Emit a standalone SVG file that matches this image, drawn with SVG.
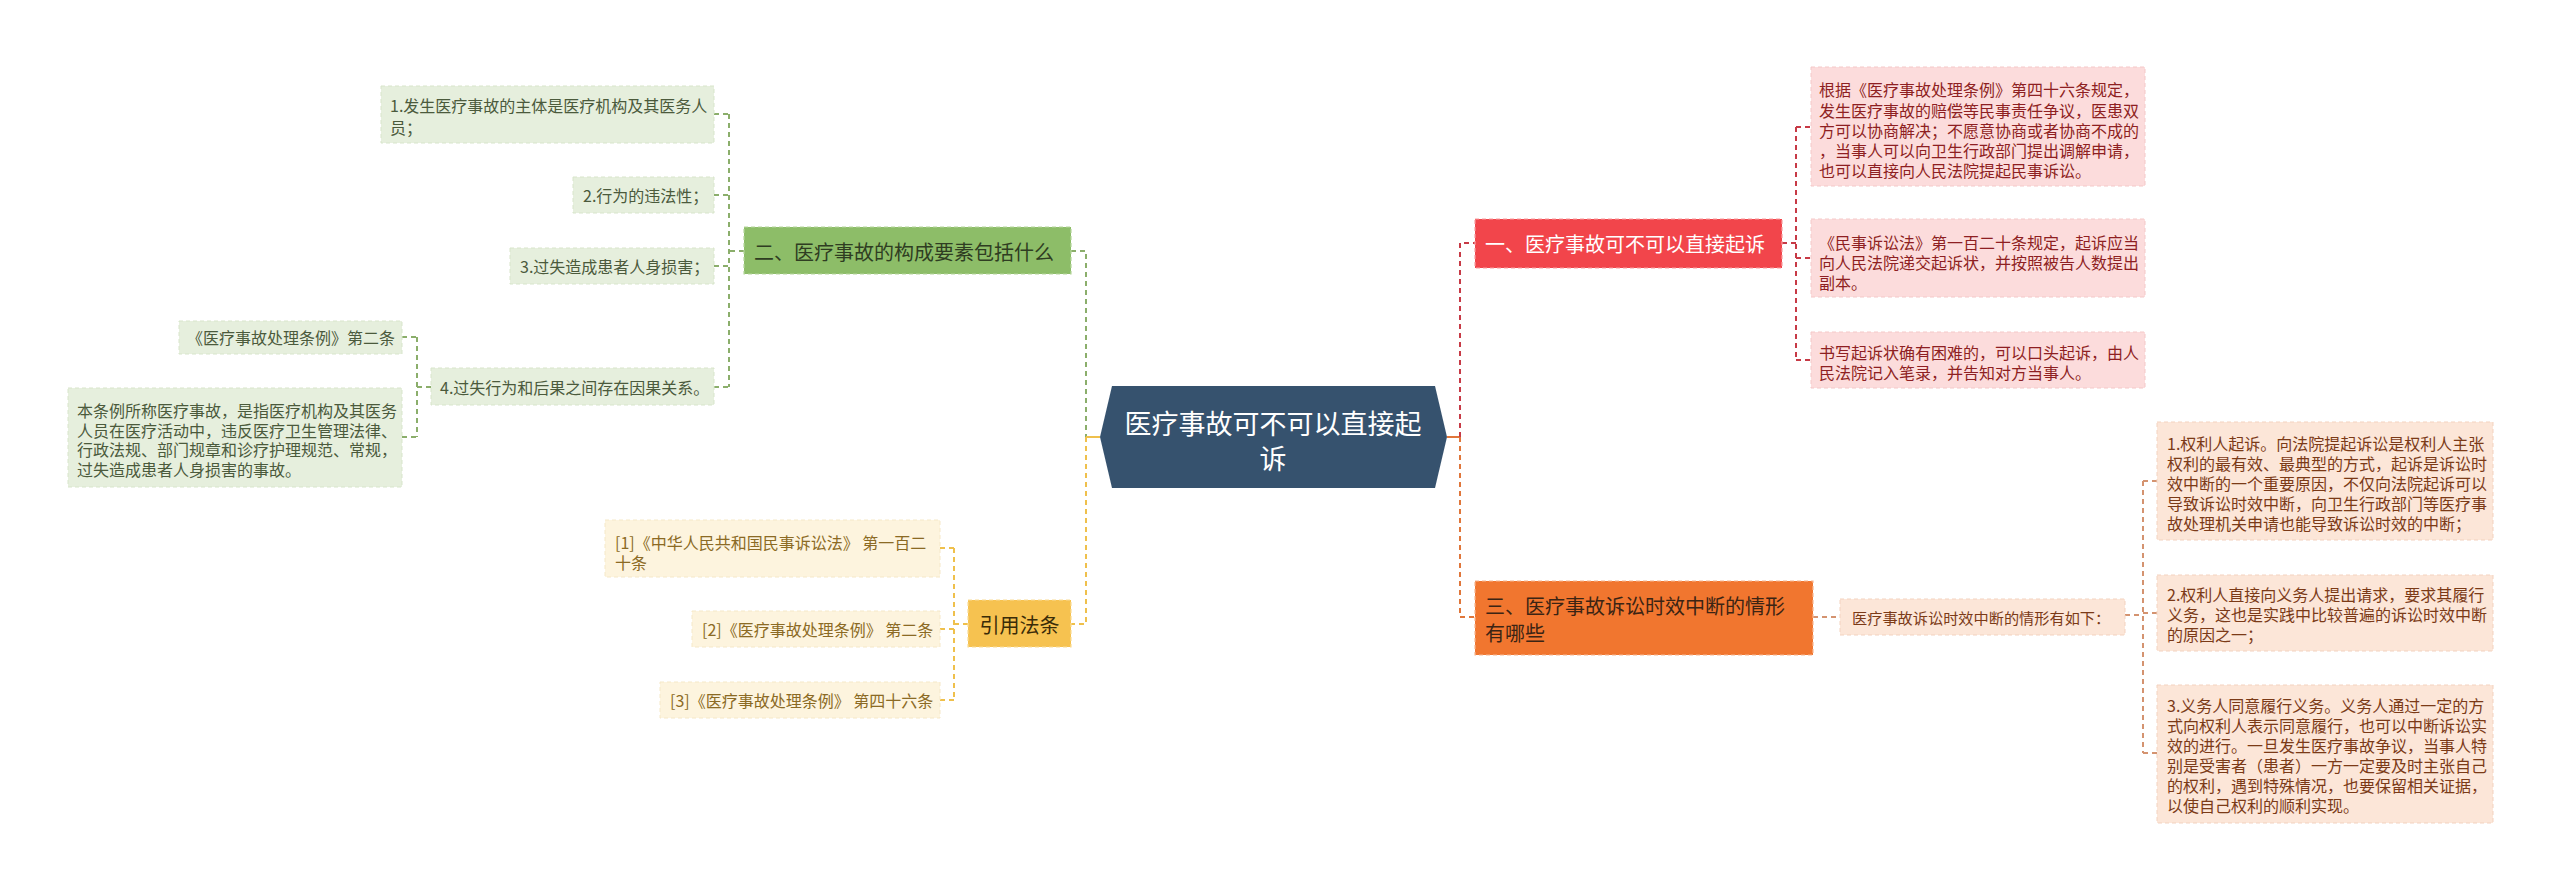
<svg xmlns="http://www.w3.org/2000/svg" width="2560" height="892" viewBox="0 0 2560 892">
<style>
text{font-family:"Noto Sans CJK SC","Noto Sans",sans-serif;dominant-baseline:central}
.t16{font-size:16px}
.main{font-size:20px}
.gl rect{fill:#e6efdd;stroke:#d8e5cb;stroke-width:1;stroke-dasharray:4 3}
.gl text{fill:#4b5a3c}
.yl rect{fill:#fdf4de;stroke:#f5e8c8;stroke-width:1;stroke-dasharray:4 3}
.yl text{fill:#8b6a24}
.rl rect{fill:#fcdcdc;stroke:#f4c8c8;stroke-width:1;stroke-dasharray:4 3}
.rl text{fill:#8e1f22}
.ol rect{fill:#fce6d8;stroke:#f3d2bf;stroke-width:1;stroke-dasharray:4 3}
.ol text{fill:#7b3a17}
.c{fill:none;stroke-width:2;stroke-dasharray:5 4}
.cg{stroke:#8bae6b}
.cy{stroke:#efc04c}
.cr{stroke:#c73a46}
.co{stroke:#e0763a}
.cp{stroke:#d49370}
</style>

<g id="connectors">
  <!-- green branch -->
  <path class="c cg" d="M1071 251H1086V437"/>
  <path class="c cg" d="M744 251H729M729 114V387M714 114H729M714 195H729M714 266H729M714 387H729"/>
  <path class="c cg" d="M431 387H417M417 337V437M402 337H417M402 437H417"/>
  <!-- yellow branch -->
  <path d="M1086 437H1100" stroke="#efc04c" stroke-width="2" fill="none"/>
  <path class="c cy" d="M1086 437V624H1071"/>
  <path class="c cy" d="M968 624H954M954 548V700M940 548H954M940 629H954M940 700H954"/>
  <!-- red branch -->
  <path d="M1447 437H1460" stroke="#e0763a" stroke-width="2" fill="none"/>
  <path class="c cr" d="M1460 437V243H1475"/>
  <path class="c cr" d="M1782 243H1796M1796 127V360M1796 127H1811M1796 258H1811M1796 360H1811"/>
  <!-- orange branch -->
  <path class="c co" d="M1460 437V617H1475"/>
  <path class="c cp" d="M1813 617H1840"/>
  <path class="c cp" d="M2125 615H2143M2143 481V753M2143 481H2157M2143 613H2157M2143 753H2157"/>
</g>

<g id="root">
  <polygon points="1100,437 1112,386 1435,386 1447,437 1435,488 1112,488" fill="#36526e"/>
  <text x="1273" y="422" font-size="27" fill="#ffffff" text-anchor="middle">医疗事故可不可以直接起</text>
  <text x="1273" y="457" font-size="27" fill="#ffffff" text-anchor="middle">诉</text>
</g>

<!-- green -->
<g id="n-g-main">
  <rect x="744" y="227" width="327" height="47" fill="#8dbd68" stroke="#b5d69c" stroke-width="1.2" stroke-dasharray="4 3"/>
  <text class="main" x="754" y="251" fill="#2f3d22">二、医疗事故的构成要素包括什么</text>
</g>
<g id="n-g1" class="gl">
  <rect x="381" y="86" width="333" height="57"/>
  <text class="t16" x="390" y="105">1.发生医疗事故的主体是医疗机构及其医务人</text>
  <text class="t16" x="390" y="127">员；</text>
</g>
<g id="n-g2" class="gl">
  <rect x="573" y="177" width="141" height="36"/>
  <text class="t16" x="583" y="195">2.行为的违法性；</text>
</g>
<g id="n-g3" class="gl">
  <rect x="510" y="248" width="204" height="36"/>
  <text class="t16" x="520" y="266">3.过失造成患者人身损害；</text>
</g>
<g id="n-g4" class="gl">
  <rect x="431" y="368" width="283" height="37"/>
  <text class="t16" x="440" y="387">4.过失行为和后果之间存在因果关系。</text>
</g>
<g id="n-g5" class="gl">
  <rect x="179" y="321" width="223" height="33"/>
  <text class="t16" x="187" y="337">《医疗事故处理条例》第二条</text>
</g>
<g id="n-g6" class="gl">
  <rect x="68" y="388" width="334" height="99"/>
  <text class="t16" x="77" y="410">本条例所称医疗事故，是指医疗机构及其医务</text>
  <text class="t16" x="77" y="429.5">人员在医疗活动中，违反医疗卫生管理法律、</text>
  <text class="t16" x="77" y="449">行政法规、部门规章和诊疗护理规范、常规，</text>
  <text class="t16" x="77" y="468.5">过失造成患者人身损害的事故。</text>
</g>

<!-- yellow -->
<g id="n-y-main">
  <rect x="968" y="600" width="103" height="47" fill="#f6c250" stroke="#fadc95" stroke-width="1.2" stroke-dasharray="4 3"/>
  <text class="main" x="1019.5" y="624" fill="#3a2c08" text-anchor="middle">引用法条</text>
</g>
<g id="n-y1" class="yl">
  <rect x="605" y="520" width="335" height="57"/>
  <text class="t16" x="615" y="542">[1]《中华人民共和国民事诉讼法》 第一百二</text>
  <text class="t16" x="615" y="562">十条</text>
</g>
<g id="n-y2" class="yl">
  <rect x="692" y="611" width="248" height="36"/>
  <text class="t16" x="702" y="629">[2]《医疗事故处理条例》 第二条</text>
</g>
<g id="n-y3" class="yl">
  <rect x="660" y="682" width="280" height="36"/>
  <text class="t16" x="670" y="700">[3]《医疗事故处理条例》 第四十六条</text>
</g>

<!-- red -->
<g id="n-r-main">
  <rect x="1475" y="219" width="307" height="49" fill="#f2454b" stroke="#f99ea0" stroke-width="1.2" stroke-dasharray="4 3"/>
  <text class="main" x="1485" y="243" fill="#ffffff">一、医疗事故可不可以直接起诉</text>
</g>
<g id="n-r1" class="rl">
  <rect x="1811" y="67" width="334" height="119"/>
  <text class="t16" x="1819" y="89">根据《医疗事故处理条例》第四十六条规定，</text>
  <text class="t16" x="1819" y="109.5">发生医疗事故的赔偿等民事责任争议，医患双</text>
  <text class="t16" x="1819" y="130">方可以协商解决；不愿意协商或者协商不成的</text>
  <text class="t16" x="1819" y="150">，当事人可以向卫生行政部门提出调解申请，</text>
  <text class="t16" x="1819" y="170">也可以直接向人民法院提起民事诉讼。</text>
</g>
<g id="n-r2" class="rl">
  <rect x="1811" y="219" width="334" height="78"/>
  <text class="t16" x="1819" y="242">《民事诉讼法》第一百二十条规定，起诉应当</text>
  <text class="t16" x="1819" y="262">向人民法院递交起诉状，并按照被告人数提出</text>
  <text class="t16" x="1819" y="282">副本。</text>
</g>
<g id="n-r3" class="rl">
  <rect x="1811" y="332" width="334" height="56"/>
  <text class="t16" x="1819" y="352">书写起诉状确有困难的，可以口头起诉，由人</text>
  <text class="t16" x="1819" y="372">民法院记入笔录，并告知对方当事人。</text>
</g>

<!-- orange -->
<g id="n-o-main">
  <rect x="1475" y="581" width="338" height="74" fill="#f1762f" stroke="#f8b68f" stroke-width="1.2" stroke-dasharray="4 3"/>
  <text class="main" x="1485" y="605" fill="#3b2414">三、医疗事故诉讼时效中断的情形</text>
  <text class="main" x="1485" y="632" fill="#3b2414">有哪些</text>
</g>
<g id="n-o-mid" class="ol">
  <rect x="1840" y="599" width="285" height="36"/>
  <text x="1852" y="617" font-size="15.2">医疗事故诉讼时效中断的情形有如下：</text>
</g>
<g id="n-o1" class="ol">
  <rect x="2157" y="422" width="336" height="118"/>
  <text class="t16" x="2167" y="443">1.权利人起诉。向法院提起诉讼是权利人主张</text>
  <text class="t16" x="2167" y="463">权利的最有效、最典型的方式，起诉是诉讼时</text>
  <text class="t16" x="2167" y="483">效中断的一个重要原因，不仅向法院起诉可以</text>
  <text class="t16" x="2167" y="503">导致诉讼时效中断，向卫生行政部门等医疗事</text>
  <text class="t16" x="2167" y="523">故处理机关申请也能导致诉讼时效的中断；</text>
</g>
<g id="n-o2" class="ol">
  <rect x="2157" y="575" width="336" height="76"/>
  <text class="t16" x="2167" y="594">2.权利人直接向义务人提出请求，要求其履行</text>
  <text class="t16" x="2167" y="614">义务，这也是实践中比较普遍的诉讼时效中断</text>
  <text class="t16" x="2167" y="634">的原因之一；</text>
</g>
<g id="n-o3" class="ol">
  <rect x="2157" y="685" width="336" height="138"/>
  <text class="t16" x="2167" y="705">3.义务人同意履行义务。义务人通过一定的方</text>
  <text class="t16" x="2167" y="725">式向权利人表示同意履行，也可以中断诉讼实</text>
  <text class="t16" x="2167" y="745">效的进行。一旦发生医疗事故争议，当事人特</text>
  <text class="t16" x="2167" y="765">别是受害者（患者）一方一定要及时主张自己</text>
  <text class="t16" x="2167" y="785">的权利，遇到特殊情况，也要保留相关证据，</text>
  <text class="t16" x="2167" y="805">以使自己权利的顺利实现。</text>
</g>
</svg>
